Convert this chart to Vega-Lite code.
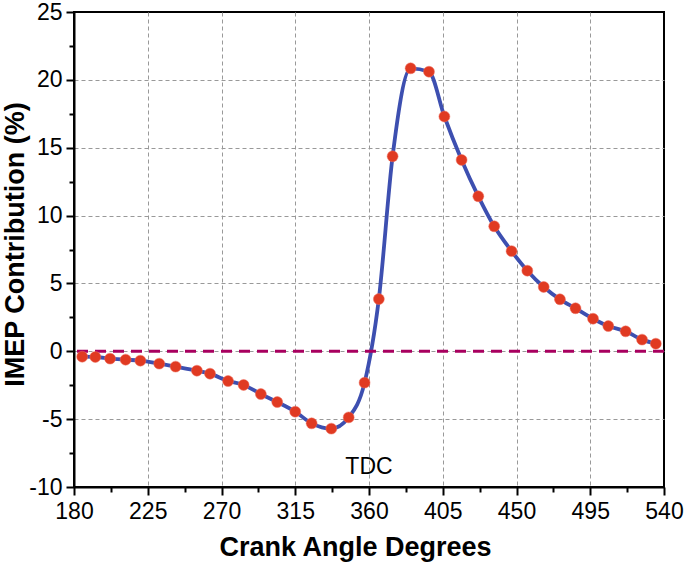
{
  "$schema": "https://vega.github.io/schema/vega-lite/v6.json",
  "width": 590,
  "height": 475,
  "autosize": "none",
  "padding": {"left": 74, "top": 12, "right": 21, "bottom": 76},
  "background": "white",
  "config": {
    "view": {"stroke": "black", "strokeWidth": 2},
    "font": "Liberation Sans",
    "axis": {
      "ticks": true,
      "domainColor": "black",
      "domainWidth": 2,
      "tickColor": "black",
      "tickWidth": 2,
      "tickOpacity": 1,
      "labelColor": "black",
      "labelFont": "Liberation Sans",
      "labelFontSize": 23,
      "titleFont": "Liberation Sans",
      "titleFontSize": 27,
      "titleFontWeight": "bold",
      "titleColor": "black",
      "gridColor": "#999999",
      "gridDash": [4, 3],
      "gridWidth": 1
    }
  },
  "resolve": {"axis": {"x": "independent", "y": "independent"}},
  "datasets": {
    "curve": [
      {"cad": 185, "imep": -0.40},
      {"cad": 193, "imep": -0.42},
      {"cad": 202, "imep": -0.54},
      {"cad": 211.5, "imep": -0.62},
      {"cad": 220.5, "imep": -0.69},
      {"cad": 232, "imep": -0.91},
      {"cad": 242, "imep": -1.13},
      {"cad": 255, "imep": -1.43},
      {"cad": 263, "imep": -1.65},
      {"cad": 274, "imep": -2.19},
      {"cad": 283.5, "imep": -2.48},
      {"cad": 294, "imep": -3.15},
      {"cad": 304, "imep": -3.74},
      {"cad": 315, "imep": -4.45},
      {"cad": 325, "imep": -5.31},
      {"cad": 337, "imep": -5.70},
      {"cad": 347.6, "imep": -4.87},
      {"cad": 357.3, "imep": -2.31},
      {"cad": 366, "imep": 3.85},
      {"cad": 374.4, "imep": 14.37},
      {"cad": 385.4, "imep": 20.85},
      {"cad": 396.6, "imep": 20.6},
      {"cad": 406, "imep": 17.3},
      {"cad": 416.5, "imep": 14.1},
      {"cad": 426.7, "imep": 11.42},
      {"cad": 436.4, "imep": 9.21},
      {"cad": 447, "imep": 7.38},
      {"cad": 456.6, "imep": 5.94},
      {"cad": 466.6, "imep": 4.74},
      {"cad": 476.5, "imep": 3.83},
      {"cad": 486, "imep": 3.17},
      {"cad": 496.7, "imep": 2.40},
      {"cad": 506, "imep": 1.86},
      {"cad": 516.6, "imep": 1.47},
      {"cad": 526.6, "imep": 0.86},
      {"cad": 535, "imep": 0.56}
    ],
    "notes": [
      {"cad": 360, "imep": -8.5, "label": "TDC"}
    ],
    "minor": [
      {"cad": 202.5, "imep": -7.5}
    ]
  },
  "layer": [
    {
      "data": {"name": "minor"},
      "mark": {"type": "point", "opacity": 0},
      "encoding": {
        "x": {
          "field": "cad",
          "type": "quantitative",
          "scale": {"domain": [180, 540], "nice": false, "zero": false},
          "axis": {
            "orient": "bottom",
            "title": null,
            "values": [202.5, 247.5, 292.5, 337.5, 382.5, 427.5, 472.5, 517.5],
            "labels": false,
            "domain": false,
            "grid": false,
            "ticks": true,
            "tickSize": 5
          }
        },
        "y": {
          "field": "imep",
          "type": "quantitative",
          "scale": {"domain": [-10, 25], "nice": false, "zero": false},
          "axis": {
            "orient": "left",
            "title": null,
            "values": [-7.5, -2.5, 2.5, 7.5, 12.5, 17.5, 22.5],
            "labels": false,
            "domain": false,
            "grid": false,
            "ticks": true,
            "tickSize": 5
          }
        }
      }
    },
    {
      "data": {"name": "curve"},
      "mark": {"type": "line", "color": "#3D4FB0", "strokeWidth": 3.8, "interpolate": "monotone"},
      "encoding": {
        "x": {
          "field": "cad",
          "type": "quantitative",
          "scale": {"domain": [180, 540], "nice": false, "zero": false},
          "axis": {
            "orient": "bottom",
            "title": "Crank Angle Degrees",
            "values": [180, 225, 270, 315, 360, 405, 450, 495, 540],
            "labelExpr": "'' + datum.value",
            "ticks": true,
            "tickSize": 8,
            "grid": true,
            "gridOpacity": {"condition": {"test": "datum.value > 180 && datum.value < 540", "value": 1}, "value": 0},
            "labelPadding": 5,
            "titleX": 281,
            "titleY": 68,
            "titleAlign": "center",
            "titleBaseline": "alphabetic",
            "labelFlush": false
          }
        },
        "y": {
          "field": "imep",
          "type": "quantitative",
          "scale": {"domain": [-10, 25], "nice": false, "zero": false},
          "axis": {
            "orient": "left",
            "title": "IMEP Contribution (%)",
            "values": [-10, -5, 0, 5, 10, 15, 20, 25],
            "labelExpr": "'' + datum.value",
            "ticks": true,
            "tickSize": 8,
            "grid": true,
            "gridOpacity": {"condition": {"test": "datum.value > -10 && datum.value < 25", "value": 1}, "value": 0},
            "labelPadding": 4,
            "titleX": -51,
            "titleY": 232,
            "titleAngle": -90,
            "titleAlign": "center",
            "titleBaseline": "alphabetic",
            "labelFlush": false
          }
        }
      }
    },
    {
      "data": {"values": [{"zero": 0}]},
      "mark": {"type": "rule", "color": "#A8005F", "strokeWidth": 3, "strokeDash": [11, 7]},
      "encoding": {"y": {"field": "zero", "type": "quantitative", "axis": null}}
    },
    {
      "data": {"name": "curve"},
      "mark": {"type": "point", "filled": true, "shape": "circle", "size": 120, "color": "#E03A22", "opacity": 1, "stroke": "#F07060", "strokeWidth": 0.5},
      "encoding": {
        "x": {"field": "cad", "type": "quantitative", "axis": null},
        "y": {"field": "imep", "type": "quantitative", "axis": null}
      }
    },
    {
      "data": {"name": "notes"},
      "mark": {"type": "text", "fontSize": 23, "color": "black", "align": "center", "baseline": "middle", "font": "Liberation Sans"},
      "encoding": {
        "x": {"field": "cad", "type": "quantitative", "axis": null},
        "y": {"field": "imep", "type": "quantitative", "axis": null},
        "text": {"field": "label"}
      }
    }
  ]
}
